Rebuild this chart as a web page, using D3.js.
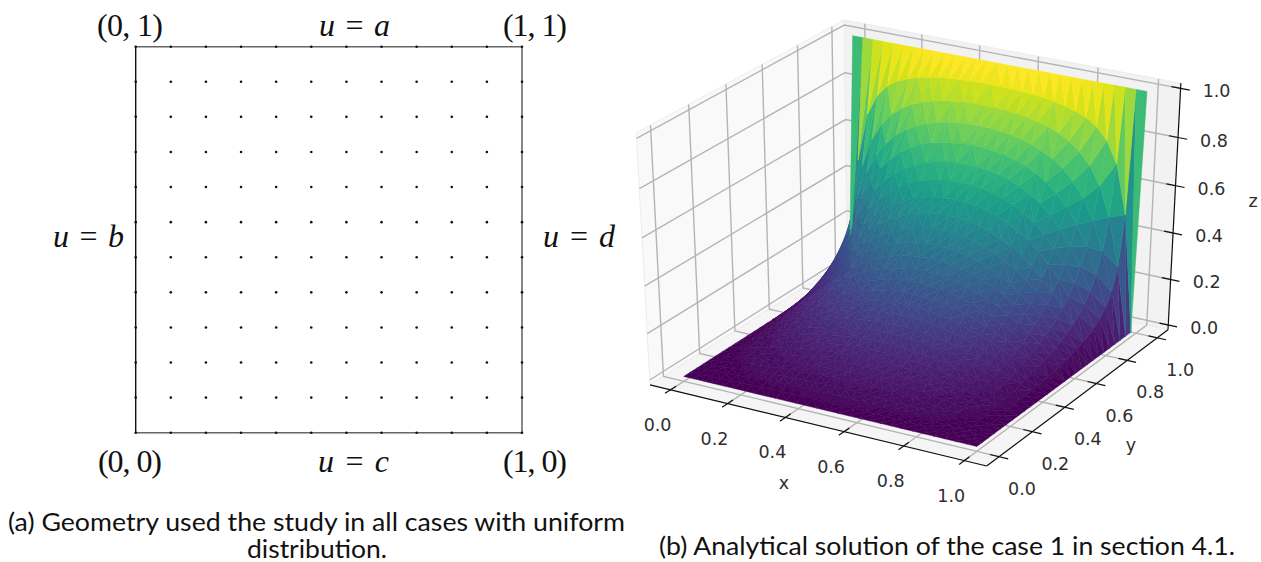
<!DOCTYPE html>
<html>
<head>
<meta charset="utf-8">
<script src="https://cdn.jsdelivr.net/npm/d3@7"></script>
<style>
  html, body { margin: 0; background: #fff; }
  svg { display: block; }
  .math { font-family: "Liberation Serif", serif; font-size: 32px; fill: #111; }
  .caption { font-family: Lato, sans-serif; font-size: 25px; fill: #111; }
  .tick3d { font-family: "DejaVu Sans", sans-serif; font-size: 17.5px; fill: #2e2e2e; text-anchor: middle; }
</style>
</head>
<body>
<svg id="chart" width="1261" height="562"></svg>
<script>
// left panel: uniform nodes
const nodeCoords = [0, 0.0909, 0.1818, 0.2727, 0.3636, 0.4545, 0.5455, 0.6364, 0.7273, 0.8182, 0.9091, 1];

// right panel: heights on a 1/28 mesh, one row per y, x from 0 to 0.5 (the surface is symmetric in x).
// Hand estimates from the expected shape of the solution, checked against the picture's colour bands.
const halfRows = [
  [0, 0, 0, 0, 0, 0, 0, 0, 0, 0, 0, 0, 0, 0, 0],
  [0, .001, .003, .004, .005, .007, .008, .009, .010, .010, .011, .012, .012, .012, .012],
  [0, .003, .006, .008, .011, .013, .016, .018, .020, .021, .022, .024, .024, .025, .025],
  [0, .004, .008, .012, .016, .020, .024, .027, .030, .032, .034, .036, .037, .038, .038],
  [0, .006, .012, .017, .022, .027, .032, .036, .040, .043, .046, .048, .050, .051, .051],
  [0, .007, .014, .022, .028, .035, .041, .046, .051, .055, .059, .061, .063, .065, .065],
  [0, .009, .018, .027, .035, .043, .050, .057, .063, .068, .072, .075, .078, .079, .080],
  [0, .011, .022, .032, .042, .051, .060, .068, .075, .081, .086, .090, .093, .095, .095],
  [0, .013, .025, .038, .049, .061, .071, .080, .088, .096, .101, .106, .110, .112, .112],
  [0, .015, .030, .044, .058, .070, .082, .093, .103, .111, .118, .123, .127, .130, .130],
  [0, .017, .034, .051, .067, .082, .095, .108, .119, .129, .136, .143, .147, .150, .151],
  [0, .020, .039, .058, .077, .094, .109, .124, .136, .147, .156, .163, .168, .171, .172],
  [0, .023, .045, .067, .088, .107, .125, .141, .156, .168, .178, .186, .191, .195, .196],
  [0, .026, .052, .076, .100, .122, .142, .161, .177, .190, .202, .210, .217, .220, .222],
  [0, .030, .059, .087, .114, .139, .162, .182, .200, .215, .228, .237, .244, .248, .250],
  [0, .034, .067, .099, .129, .158, .183, .206, .226, .243, .256, .267, .275, .279, .281],
  [0, .039, .077, .113, .147, .179, .207, .233, .254, .273, .288, .299, .308, .313, .315],
  [0, .044, .088, .129, .168, .203, .235, .263, .287, .308, .324, .337, .346, .351, .353],
  [0, .051, .100, .148, .191, .231, .266, .297, .324, .345, .363, .376, .386, .391, .393],
  [0, .059, .116, .171, .220, .265, .304, .337, .365, .389, .407, .421, .431, .437, .439],
  [0, .069, .135, .197, .253, .302, .345, .381, .411, .435, .454, .469, .479, .485, .487],
  [0, .081, .158, .230, .293, .347, .393, .431, .462, .487, .507, .521, .532, .537, .539],
  [0, .097, .189, .271, .341, .400, .449, .489, .520, .546, .565, .579, .588, .594, .596],
  [0, .119, .229, .323, .401, .465, .515, .554, .585, .609, .627, .640, .649, .654, .656],
  [0, .150, .284, .393, .477, .542, .590, .628, .656, .678, .694, .706, .713, .718, .720],
  [0, .201, .366, .487, .573, .634, .678, .710, .734, .752, .765, .775, .781, .785, .786],
  [0, .292, .494, .617, .692, .742, .776, .801, .819, .831, .841, .847, .852, .854, .855],
  [0, .498, .702, .790, .837, .866, .884, .898, .907, .914, .919, .922, .924, .926, .926],
  [1, 1, 1, 1, 1, 1, 1, 1, 1, 1, 1, 1, 1, 1, 1]
];
const meshStep = 1 / 28;
const xTicks = [0, 0.2, 0.4, 0.6, 0.8, 1];
const yTicks = [0, 0.2, 0.4, 0.6, 0.8, 1];
const zTicks = [0, 0.2, 0.4, 0.6, 0.8, 1];

const surfaceZ = halfRows.map(r => r.concat(r.slice(0, -1).reverse()));

const svg = d3.select("#chart");

const soft = svg.append("defs").append("filter").attr("id", "soft");
soft.append("feGaussianBlur").attr("stdDeviation", 0.45);

/* ---------- (a) geometry ---------- */
const sx = d3.scaleLinear().domain([0, 1]).range([135.7, 522]);
const sy = d3.scaleLinear().domain([0, 1]).range([432.7, 46.7]);

const geometry = svg.append("g");
geometry.append("line").attr("x1", sx(0)).attr("x2", sx(0)).attr("y1", sy(0)).attr("y2", sy(1))
  .attr("stroke", "#111").attr("stroke-width", 1.4);
geometry.append("line").attr("x1", sx(1)).attr("x2", sx(1)).attr("y1", sy(0)).attr("y2", sy(1))
  .attr("stroke", "#555").attr("stroke-width", 1.4);
geometry.append("line").attr("x1", sx(0)).attr("x2", sx(1)).attr("y1", sy(1)).attr("y2", sy(1))
  .attr("stroke", "#666").attr("stroke-width", 1.6);
geometry.append("line").attr("x1", sx(0)).attr("x2", sx(1)).attr("y1", sy(0)).attr("y2", sy(0))
  .attr("stroke", "#666").attr("stroke-width", 1.6);

geometry.selectAll("circle")
  .data(d3.cross(nodeCoords, nodeCoords))
  .join("circle")
  .attr("cx", d => sx(d[0]))
  .attr("cy", d => sy(d[1]))
  .attr("r", 1.3)
  .attr("fill", "#111");

const mathLabels = [
  {t: "(0, 1)", x: 97, y: 36, w: 66, i: false},
  {t: "(1, 1)", x: 503, y: 36, w: 64, i: false},
  {t: "(0, 0)", x: 98, y: 472, w: 64, i: false},
  {t: "(1, 0)", x: 503, y: 472, w: 64, i: false},
  {t: "u = a", x: 319, y: 36, w: 71, i: true},
  {t: "u = c", x: 318, y: 472, w: 71, i: true},
  {t: "u = b", x: 53, y: 247, w: 71, i: true},
  {t: "u = d", x: 543, y: 247, w: 72, i: true}
];
svg.append("g").selectAll("text")
  .data(mathLabels)
  .join("text")
  .attr("class", "math")
  .attr("x", d => d.x)
  .attr("y", d => d.y)
  .attr("textLength", d => d.w)
  .attr("lengthAdjust", "spacing")
  .each(function(d) {
    const t = d3.select(this);
    if (d.i) {
      const parts = d.t.split(" = ");
      t.append("tspan").attr("font-style", "italic").text(parts[0]);
      t.append("tspan").text(" = ");
      t.append("tspan").attr("font-style", "italic").text(parts[1]);
    } else {
      t.text(d.t);
    }
  });

/* ---------- (b) surface ---------- */
// same camera as a default mplot3d axes
const elev = 30 * Math.PI / 180, azim = -60 * Math.PI / 180, dist = 10;
const xLim = [-0.073, 1.073], yLim = [-0.073, 1.073], zLim = [-0.021, 1.021];
const toUnitX = d3.scaleLinear().domain(xLim).range([0, 1]);
const toUnitY = d3.scaleLinear().domain(yLim).range([0, 1]);
const toUnitZ = d3.scaleLinear().domain(zLim).range([0, 1]);

const nv = [Math.cos(elev) * Math.cos(azim), Math.cos(elev) * Math.sin(azim), Math.sin(elev)];
const uLen = Math.hypot(nv[0], nv[1]);
const uv = [-nv[1] / uLen, nv[0] / uLen, 0];
const vv = [nv[1] * uv[2] - nv[2] * uv[1], nv[2] * uv[0] - nv[0] * uv[2], nv[0] * uv[1] - nv[1] * uv[0]];

function camera(x, y, z) {
  const p = [toUnitX(x) - 0.5 - dist * nv[0], toUnitY(y) - 0.5 - dist * nv[1], toUnitZ(z) - 0.5 - dist * nv[2]];
  const w = -d3.sum(p, (c, i) => c * nv[i]);
  return {
    x: d3.sum(p, (c, i) => c * uv[i]) / w,
    y: d3.sum(p, (c, i) => c * vv[i]) / w,
    w: w
  };
}

// fit the projected box onto the picture
const px = d3.scaleLinear()
  .domain([camera(xLim[0], yLim[0], zLim[0]).x, camera(xLim[1], yLim[1], zLim[0]).x])
  .range([650, 1168]);
const py = d3.scaleLinear()
  .domain([camera(xLim[1], yLim[0], zLim[0]).y, camera(xLim[0], yLim[1], zLim[1]).y])
  .range([466, 20]);

function proj(x, y, z) {
  const c = camera(x, y, z);
  return [px(c.x), py(c.y)];
}
const path3d = d3.line();

const panes = [
  {fill: "#f9f9f9", pts: [[xLim[0], yLim[0], zLim[0]], [xLim[0], yLim[1], zLim[0]], [xLim[0], yLim[1], zLim[1]], [xLim[0], yLim[0], zLim[1]]]},
  {fill: "#f2f2f2", pts: [[xLim[0], yLim[1], zLim[0]], [xLim[1], yLim[1], zLim[0]], [xLim[1], yLim[1], zLim[1]], [xLim[0], yLim[1], zLim[1]]]},
  {fill: "#f5f5f5", pts: [[xLim[0], yLim[0], zLim[0]], [xLim[1], yLim[0], zLim[0]], [xLim[1], yLim[1], zLim[0]], [xLim[0], yLim[1], zLim[0]]]}
];
const box = svg.append("g").attr("filter", "url(#soft)");
box.selectAll("path.pane")
  .data(panes)
  .join("path")
  .attr("class", "pane")
  .attr("fill", d => d.fill)
  .attr("stroke", "#ececec")
  .attr("stroke-width", 1)
  .attr("d", d => path3d(d.pts.map(p => proj(...p))) + "Z");

const gridLines = [
  ...xTicks.map(v => [[v, yLim[0], zLim[0]], [v, yLim[1], zLim[0]], [v, yLim[1], zLim[1]]]),
  ...yTicks.map(v => [[xLim[1], v, zLim[0]], [xLim[0], v, zLim[0]], [xLim[0], v, zLim[1]]]),
  ...zTicks.map(v => [[xLim[0], yLim[0], v], [xLim[0], yLim[1], v], [xLim[1], yLim[1], v]])
];
box.selectAll("path.grid")
  .data(gridLines)
  .join("path")
  .attr("class", "grid")
  .attr("fill", "none")
  .attr("stroke", "#b4b4b4")
  .attr("stroke-width", 1.4)
  .attr("d", d => path3d(d.map(p => proj(...p))));

const axisLines = [
  [[xLim[0], yLim[0], zLim[0]], [xLim[1], yLim[0], zLim[0]]],
  [[xLim[1], yLim[0], zLim[0]], [xLim[1], yLim[1], zLim[0]]],
  [[xLim[1], yLim[1], zLim[0]], [xLim[1], yLim[1], zLim[1]]]
];
const tickLen = 0.03;
const tickLines = [
  ...xTicks.map(v => [[v, yLim[0] - tickLen, zLim[0]], [v, yLim[0] + tickLen, zLim[0]]]),
  ...yTicks.map(v => [[xLim[1] + tickLen, v, zLim[0]], [xLim[1] - tickLen, v, zLim[0]]]),
  ...zTicks.map(v => [[xLim[1] + tickLen, yLim[1], v], [xLim[1] - tickLen, yLim[1], v]])
];
box.selectAll("path.axis")
  .data(axisLines.concat(tickLines))
  .join("path")
  .attr("class", "axis")
  .attr("fill", "none")
  .attr("stroke", "#111")
  .attr("stroke-width", 1.2)
  .attr("d", d => path3d(d.map(p => proj(...p))));

// triangulate the samples like plot_trisurf, colour by mean height
const samples = [];
surfaceZ.forEach((row, j) => row.forEach((z, i) => samples.push({x: i * meshStep, y: j * meshStep, z: z})));
const delaunay = d3.Delaunay.from(samples, d => d.x, d => d.y);
const faces = d3.range(delaunay.triangles.length / 3).map(k => {
  const verts = [0, 1, 2].map(o => samples[delaunay.triangles[3 * k + o]]);
  return {
    verts: verts,
    mean: d3.mean(verts, d => d.z),
    depth: d3.mean(verts, d => camera(d.x, d.y, d.z).w)
  };
});
faces.sort((a, b) => d3.descending(a.depth, b.depth));

const color = d3.scaleSequential(d3.interpolateViridis).domain([0, d3.max(faces, d => d.mean)]);

svg.append("g").attr("filter", "url(#soft)").selectAll("path")
  .data(faces)
  .join("path")
  .attr("fill", d => color(d.mean))
  .attr("stroke", d => color(d.mean))
  .attr("stroke-width", 0.5)
  .attr("stroke-linejoin", "round")
  .attr("d", d => path3d(d.verts.map(v => proj(v.x, v.y, v.z))) + "Z");

// tick labels
const tickFmt = d3.format(".1f");
const labels = svg.append("g");
labels.selectAll("text.xl").data(xTicks).join("text")
  .attr("class", "tick3d xl")
  .attr("x", d => proj(d, yLim[0], zLim[0])[0] - 13)
  .attr("y", d => proj(d, yLim[0], zLim[0])[1] + 41)
  .text(tickFmt);
labels.selectAll("text.yl").data(yTicks).join("text")
  .attr("class", "tick3d yl")
  .attr("x", d => proj(xLim[1], d, zLim[0])[0] + 23)
  .attr("y", d => proj(xLim[1], d, zLim[0])[1] + 38)
  .text(tickFmt);
labels.selectAll("text.zl").data(zTicks).join("text")
  .attr("class", "tick3d zl")
  .attr("x", d => proj(xLim[1], yLim[1], d)[0] + 36)
  .attr("y", d => proj(xLim[1], yLim[1], d)[1] + 9)
  .text(tickFmt);

const axisNames = [
  {t: "x", x: 784, y: 489},
  {t: "y", x: 1131, y: 451},
  {t: "z", x: 1253, y: 207}
];
labels.selectAll("text.an").data(axisNames).join("text")
  .attr("class", "tick3d an")
  .attr("x", d => d.x)
  .attr("y", d => d.y)
  .text(d => d.t);

/* ---------- captions ---------- */
const captions = [
  {t: "(a) Geometry used the study in all cases with uniform", x: 8, y: 531, w: 617},
  {t: "distribution.", x: 247, y: 558, w: 140},
  {t: "(b) Analytical solution of the case 1 in section 4.1.", x: 659, y: 555, w: 576}
];
svg.append("g").selectAll("text")
  .data(captions)
  .join("text")
  .attr("class", "caption")
  .attr("x", d => d.x)
  .attr("y", d => d.y)
  .attr("textLength", d => d.w)
  .attr("lengthAdjust", "spacingAndGlyphs")
  .text(d => d.t);
</script>
</body>
</html>
